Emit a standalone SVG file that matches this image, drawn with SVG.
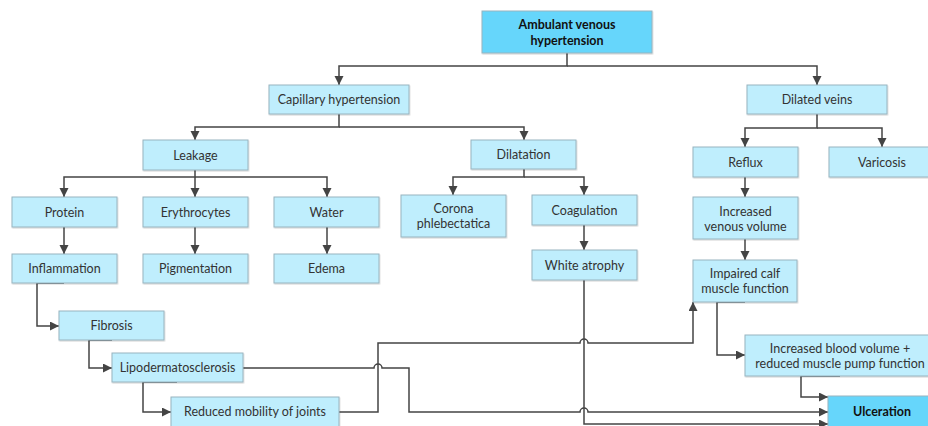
<svg xmlns="http://www.w3.org/2000/svg" width="928" height="426" viewBox="0 0 928 426">
<defs>
<marker id="ah" markerWidth="10" markerHeight="10" refX="9" refY="4.5" orient="auto" markerUnits="userSpaceOnUse">
<path d="M0,0 L9,4.5 L0,9 Z" fill="#444"/>
</marker>
<filter id="sh" x="-10%" y="-10%" width="120%" height="130%">
<feDropShadow dx="0.6" dy="1" stdDeviation="0.6" flood-color="#000" flood-opacity="0.18"/>
</filter>
</defs>
<style>
.n rect{fill:#bfeefd;stroke:#98b4bf;stroke-width:1;filter:url(#sh)}
.n.hi rect{fill:#66d6fb}
.n text{font-family:Lato,"Open Sans","Liberation Sans",sans-serif;font-size:12.5px;fill:#333;text-anchor:middle;dominant-baseline:central}
.n.hi text{font-weight:bold;fill:#111}
.c path{fill:none;stroke:#444;stroke-width:1.5}
.c path.a{marker-end:url(#ah)}
</style>
<rect width="928" height="426" fill="#fff"/>
<g class="c">
<path class="a" d="M567,53 V66 H339 V85"/>
<path class="a" d="M567,66 H817 V85"/>
<path class="a" d="M339,114 V127 H195 V140"/>
<path class="a" d="M339,127 H524 V140"/>
<path class="a" d="M817,114 V128 H745 V147"/>
<path class="a" d="M817,128 H882 V147"/>
<path class="a" d="M195,170 V177 H64 V197"/>
<path class="a" d="M195,177 V197"/>
<path class="a" d="M195,177 H327 V197"/>
<path class="a" d="M524,169 V177 H453 V195"/>
<path class="a" d="M524,177 H584 V195"/>
<path class="a" d="M64,227 V254"/>
<path class="a" d="M195,227 V254"/>
<path class="a" d="M327,227 V254"/>
<path class="a" d="M584,225 V250"/>
<path class="a" d="M745,177 V197"/>
<path class="a" d="M745,239 V260"/>
<path class="a" d="M64,283 H37 V326 H59"/>
<path class="a" d="M112,340 H89 V368 H112"/>
<path class="a" d="M177,382 H143 V412 H171"/>
<path class="a" d="M584,280 V424 H828"/>
<path class="a" d="M243,368 H374 A4,4 0 0 1 382,368 H409 V412 H580 A4,4 0 0 1 588,412 H828"/>
<path class="a" d="M339,412 H378 V343 H580 A4,4 0 0 1 588,343 H693 V302"/>
<path class="a" d="M745,302 H717 V355 H745"/>
<path class="a" d="M840,376 H801 V397 H828"/>
</g>
<g id="root" class="n hi"><rect x="482" y="11" width="170" height="42"/><text x="567" y="24">Ambulant venous</text><text x="567" y="40">hypertension</text></g>
<g id="capillary" class="n"><rect x="269" y="85" width="140" height="29"/><text x="339" y="99.5">Capillary hypertension</text></g>
<g id="dilatedveins" class="n"><rect x="747" y="85" width="140" height="29"/><text x="817" y="99.5">Dilated veins</text></g>
<g id="leakage" class="n"><rect x="143" y="140" width="105" height="30"/><text x="195.5" y="155">Leakage</text></g>
<g id="dilatation" class="n"><rect x="471" y="140" width="105" height="29"/><text x="523.5" y="154.5">Dilatation</text></g>
<g id="reflux" class="n"><rect x="693" y="147" width="105" height="30"/><text x="745.5" y="162">Reflux</text></g>
<g id="varicosis" class="n"><rect x="829" y="147" width="106" height="30"/><text x="882" y="162">Varicosis</text></g>
<g id="protein" class="n"><rect x="12" y="197" width="105" height="30"/><text x="64.5" y="212">Protein</text></g>
<g id="erythrocytes" class="n"><rect x="143" y="197" width="105" height="30"/><text x="195.5" y="212">Erythrocytes</text></g>
<g id="water" class="n"><rect x="274" y="197" width="105" height="30"/><text x="326.5" y="212">Water</text></g>
<g id="corona" class="n"><rect x="401" y="195" width="105" height="42"/><text x="453.5" y="208.5">Corona</text><text x="453.5" y="223.5">phlebectatica</text></g>
<g id="coagulation" class="n"><rect x="532" y="195" width="105" height="30"/><text x="584.5" y="210">Coagulation</text></g>
<g id="venousvolume" class="n"><rect x="693" y="197" width="105" height="42"/><text x="745.5" y="211">Increased</text><text x="745.5" y="226">venous volume</text></g>
<g id="inflammation" class="n"><rect x="12" y="254" width="105" height="29"/><text x="64.5" y="268.5">Inflammation</text></g>
<g id="pigmentation" class="n"><rect x="143" y="254" width="105" height="29"/><text x="195.5" y="268.5">Pigmentation</text></g>
<g id="edema" class="n"><rect x="274" y="254" width="105" height="29"/><text x="326.5" y="268.5">Edema</text></g>
<g id="whiteatrophy" class="n"><rect x="532" y="250" width="105" height="30"/><text x="584.5" y="265">White atrophy</text></g>
<g id="calfmuscle" class="n"><rect x="693" y="260" width="104" height="42"/><text x="745" y="273">Impaired calf</text><text x="745" y="288">muscle function</text></g>
<g id="fibrosis" class="n"><rect x="59" y="311" width="105" height="29"/><text x="111.5" y="325.5">Fibrosis</text></g>
<g id="lipo" class="n"><rect x="112" y="353" width="131" height="29"/><text x="177.5" y="367.5">Lipodermatosclerosis</text></g>
<g id="bloodvolume" class="n"><rect x="745" y="335" width="190" height="41"/><text x="840" y="348.5">Increased blood volume +</text><text x="840" y="363">reduced muscle pump function</text></g>
<g id="mobility" class="n"><rect x="171" y="397" width="168" height="31"/><text x="255" y="411.5">Reduced mobility of joints</text></g>
<g id="ulceration" class="n hi"><rect x="828" y="396" width="108" height="32"/><text x="882" y="411">Ulceration</text></g>
</svg>
